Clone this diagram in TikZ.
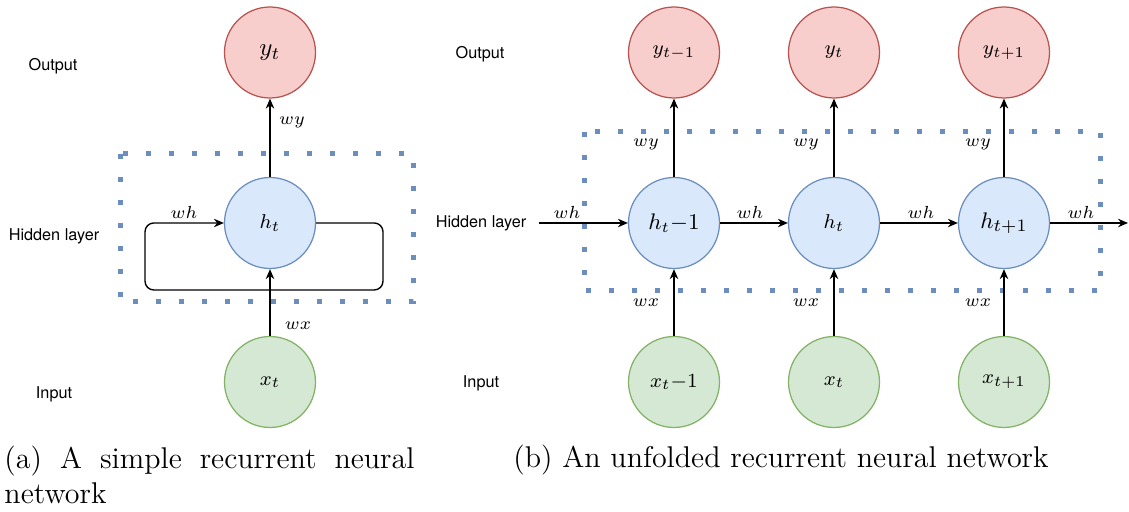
\documentclass[tikz,border=0pt]{standalone}
\usepackage{fontspec}
\newfontfamily\lab{TeX Gyre Heros}
\usetikzlibrary{arrows.meta}
\definecolor{rfill}{HTML}{F8CECC}\definecolor{rdraw}{HTML}{B85450}
\definecolor{bfill}{HTML}{DAE8FC}\definecolor{bdraw}{HTML}{6C8EBF}
\definecolor{gfill}{HTML}{D5E8D4}\definecolor{gdraw}{HTML}{82B366}
\definecolor{dotc}{HTML}{6C8EBF}
\begin{document}
\begin{tikzpicture}[x=0.4pt,y=-0.4pt,
 neuron/.style={circle,minimum size=36.4pt,inner sep=0pt,line width=0.5pt},
 outn/.style={neuron,fill=rfill,draw=rdraw},
 hidn/.style={neuron,fill=bfill,draw=bdraw},
 inn/.style={neuron,fill=gfill,draw=gdraw},
 conn/.style={line width=0.55pt,-{Stealth[length=4pt,width=3.4pt,inset=1.3pt]}},
 wlab/.style={font=\fontsize{6.8}{7}\selectfont,inner sep=0pt},
 rowlab/.style={font=\lab\fontsize{6.5}{7}\selectfont,inner sep=0pt},
 dotbox/.style={draw=dotc,line width=2pt,dash pattern=on 2pt off 7.2pt},
 capt/.style={font=\fontsize{12}{14}\selectfont,inner sep=0pt},
]
\useasboundingbox (0,0) rectangle (1129,512);
% ---------- (a) ----------
\draw[dotbox] (120,154) rectangle (413,302);
\node[rowlab] (outA) at (53,66) {Output};
\node[rowlab] (hidA) at (54,236) {Hidden layer};
\node[rowlab] (inA)  at (54,394) {Input};
\node[outn] (ya) at (270,52.5) {\fontsize{10}{12}\selectfont$y_t$};
\node[hidn] (ha) at (270,223) {\fontsize{8}{10}\selectfont$h_t$};
\node[inn]  (xa) at (270,382) {\fontsize{8}{10}\selectfont$x_t$};
\draw[conn] (ha) -- (ya);
\draw[conn] (xa) -- (ha);
\draw[conn,rounded corners=3.5pt] (ha.east) -- (383,223) -- (383,290) -- (145,290) -- (145,223) -- (ha.west);
\node[wlab] (wya) at (292,122) {$wy$};
\node[wlab] (wha) at (184,212) {$wh$};
\node[wlab] (wxa) at (298,326) {$wx$};
\node[capt,anchor=north west] (capa) at (4,446) {\parbox[t]{164pt}{\hyphenpenalty=10000\exhyphenpenalty=10000\sloppy (a) A simple recurrent neural network}};
% ---------- (b) ----------
\draw[dotbox] (584,132) rectangle (1100,291);
\node[rowlab] (outB) at (480,54) {Output};
\node[rowlab] (hidB) at (481,223) {Hidden layer};
\node[rowlab] (inB)  at (481,383) {Input};
\node[outn] (y1) at (674,52.5) {\fontsize{8}{10}\selectfont$y_{t-1}$};
\node[outn] (y2) at (834,52.5) {\fontsize{8}{10}\selectfont$y_t$};
\node[outn] (y3) at (1004,52.5) {\fontsize{8}{10}\selectfont$y_{t+1}$};
\node[hidn] (h1) at (674,223) {\fontsize{9}{10}\selectfont$h_t{-}1$};
\node[hidn] (h2) at (834,223) {\fontsize{8}{10}\selectfont$h_t$};
\node[hidn] (h3) at (1004,223) {\fontsize{9.5}{10}\selectfont$h_{t+1}$};
\node[inn] (x1) at (674,382) {\fontsize{8.5}{10}\selectfont$x_t{-}1$};
\node[inn] (x2) at (834,382) {\fontsize{8}{10}\selectfont$x_t$};
\node[inn] (x3) at (1004,382) {\fontsize{8.5}{10}\selectfont$x_{t+1}$};
\coordinate (hout) at (1128,223);
\draw[conn,shorten <=4.8pt] (hidB.east) -- (h1);
\draw[conn] (h1) -- (h2);
\draw[conn] (h2) -- (h3);
\draw[conn] (h3) -- (hout);
\foreach \i in {1,2,3}{
  \draw[conn] (x\i) -- (h\i);
  \draw[conn] (h\i) -- (y\i);
}
\node[wlab] (wh0) at (567,212) {$wh$};
\node[wlab] (wh1) at (750,212) {$wh$};
\node[wlab] (wh2) at (921,212) {$wh$};
\node[wlab] (wh3) at (1081,212) {$wh$};
\node[wlab] (wy1) at (646,144) {$wy$};
\node[wlab] (wy2) at (806,144) {$wy$};
\node[wlab] (wy3) at (978,144) {$wy$};
\node[wlab] (wx1) at (646,303) {$wx$};
\node[wlab] (wx2) at (806,303) {$wx$};
\node[wlab] (wx3) at (978,303) {$wx$};
\node[capt,anchor=base] (capb) at (781,468) {(b) An unfolded recurrent neural network};
\end{tikzpicture}
\end{document}
